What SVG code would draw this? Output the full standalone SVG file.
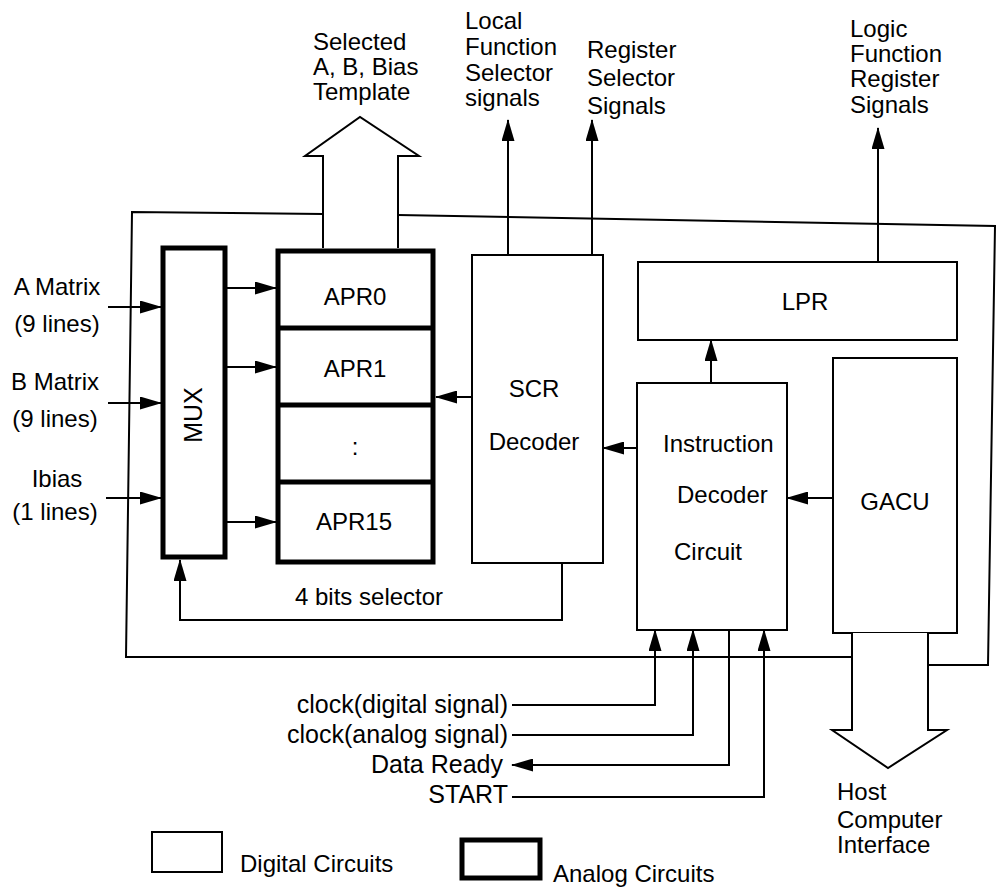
<svg xmlns="http://www.w3.org/2000/svg" width="997" height="893" viewBox="0 0 997 893">
<style>
text{font-family:"Liberation Sans",Arial,sans-serif;font-size:24px;fill:#000}
.thin{fill:#fff;stroke:#000;stroke-width:2}
.thick{fill:#fff;stroke:#000;stroke-width:5}
.ln{fill:none;stroke:#000;stroke-width:2}
.big{fill:#fff;stroke:#000;stroke-width:2;stroke-linejoin:miter}
.m{text-anchor:middle}
.e{text-anchor:end;font-size:25px}
</style>
<defs>
<marker id="ah" markerUnits="userSpaceOnUse" markerWidth="22" markerHeight="13" refX="21" refY="6.5" orient="auto">
<path d="M0,0 L22,6.5 L0,13 z" fill="#000"/>
</marker>
</defs>
<rect width="997" height="893" fill="#fff"/>
<g id="frame">
<polyline class="ln" points="323,214 132,212 126,657 852,657"/>
<polyline class="ln" points="398,215 995,226 988,665 928,665"/>
</g>
<g id="out-template">
<polyline class="big" points="323,248 323,156 305,156 360,117 419,156 398,156 398,248"/>
<text x="313" y="50">Selected</text>
<text x="313" y="75">A, B, Bias</text>
<text x="313" y="100">Template</text>
</g>
<g id="mux">
<rect class="thick" x="163" y="248" width="62" height="309"/>
<text class="m" transform="translate(193,415) rotate(-90)" dominant-baseline="central" style="font-size:25px">MUX</text>
</g>
<g id="apr">
<rect class="thick" x="278" y="251" width="155" height="311"/>
<line x1="278" y1="328" x2="433" y2="328" stroke="#000" stroke-width="5"/>
<line x1="278" y1="405" x2="433" y2="405" stroke="#000" stroke-width="5"/>
<line x1="278" y1="482" x2="433" y2="482" stroke="#000" stroke-width="5"/>
<text class="m" x="355" y="305">APR0</text>
<text class="m" x="355" y="377">APR1</text>
<text class="m" x="355" y="455">:</text>
<text class="m" x="354" y="530">APR15</text>
</g>
<g id="scr">
<rect class="thin" x="472" y="255" width="131" height="308"/>
<text class="m" x="534" y="397">SCR</text>
<text class="m" x="534" y="450">Decoder</text>
</g>
<g id="lpr">
<rect class="thin" x="638" y="262" width="319" height="78"/>
<text class="m" x="805" y="310">LPR</text>
</g>
<g id="idc">
<rect class="thin" x="637" y="383" width="150" height="247"/>
<text x="663" y="452">Instruction</text>
<text x="677" y="503">Decoder</text>
<text x="674" y="560">Circuit</text>
</g>
<g id="gacu">
<rect class="thin" x="833" y="358" width="124" height="275"/>
<text class="m" x="895" y="510">GACU</text>
</g>
<g id="out-host">
<polyline class="big" points="852,633 852,730 832,730 888,768 947,730 928,730 928,633"/>
<text x="837" y="800">Host</text>
<text x="837" y="828">Computer</text>
<text x="837" y="853">Interface</text>
</g>
<g id="labels">
<text class="m" x="57" y="295">A Matrix</text>
<text class="m" x="57" y="332">(9 lines)</text>
<text class="m" x="55" y="390">B Matrix</text>
<text class="m" x="55" y="427">(9 lines)</text>
<text class="m" x="57" y="487">Ibias</text>
<text class="m" x="55" y="520">(1 lines)</text>
<text x="465" y="29">Local</text>
<text x="465" y="55">Function</text>
<text x="465" y="81">Selector</text>
<text x="465" y="106">signals</text>
<text x="587" y="58">Register</text>
<text x="587" y="86">Selector</text>
<text x="587" y="114">Signals</text>
<text x="850" y="37">Logic</text>
<text x="850" y="62">Function</text>
<text x="850" y="87">Register</text>
<text x="850" y="113">Signals</text>
<text x="295" y="605">4 bits selector</text>
<text class="e" x="508" y="713">clock(digital signal)</text>
<text class="e" x="508" y="743">clock(analog signal)</text>
<text class="e" x="503" y="773">Data Ready</text>
<text class="e" x="508" y="803">START</text>
</g>
<g id="connectors">
<line class="ln" x1="108" y1="307" x2="161" y2="307" marker-end="url(#ah)"/>
<line class="ln" x1="108" y1="403" x2="161" y2="403" marker-end="url(#ah)"/>
<line class="ln" x1="106" y1="498" x2="161" y2="498" marker-end="url(#ah)"/>
<line class="ln" x1="227" y1="288" x2="276" y2="288" marker-end="url(#ah)"/>
<line class="ln" x1="227" y1="367" x2="276" y2="367" marker-end="url(#ah)"/>
<line class="ln" x1="227" y1="522" x2="276" y2="522" marker-end="url(#ah)"/>
<line class="ln" x1="472" y1="397" x2="436" y2="397" marker-end="url(#ah)"/>
<line class="ln" x1="637" y1="448" x2="603" y2="448" marker-end="url(#ah)"/>
<line class="ln" x1="833" y1="498" x2="787" y2="498" marker-end="url(#ah)"/>
<line class="ln" x1="711" y1="383" x2="711" y2="340" marker-end="url(#ah)"/>
<line class="ln" x1="508" y1="255" x2="508" y2="120" marker-end="url(#ah)"/>
<line class="ln" x1="592" y1="255" x2="592" y2="120" marker-end="url(#ah)"/>
<line class="ln" x1="878" y1="262" x2="878" y2="128" marker-end="url(#ah)"/>
<polyline class="ln" points="562,563 562,620 180,620 180,560" marker-end="url(#ah)"/>
<polyline class="ln" points="512,705 655,705 655,630" marker-end="url(#ah)"/>
<polyline class="ln" points="512,735 693,735 693,630" marker-end="url(#ah)"/>
<polyline class="ln" points="729,630 729,765 512,765" marker-end="url(#ah)"/>
<polyline class="ln" points="512,797 764,797 764,630" marker-end="url(#ah)"/>
</g>
<g id="legend">
<rect class="thin" x="152" y="832" width="70" height="40"/>
<text x="240" y="872">Digital Circuits</text>
<rect class="thick" x="462" y="840" width="78" height="38"/>
<text x="553" y="882">Analog Circuits</text>
</g>
</svg>
